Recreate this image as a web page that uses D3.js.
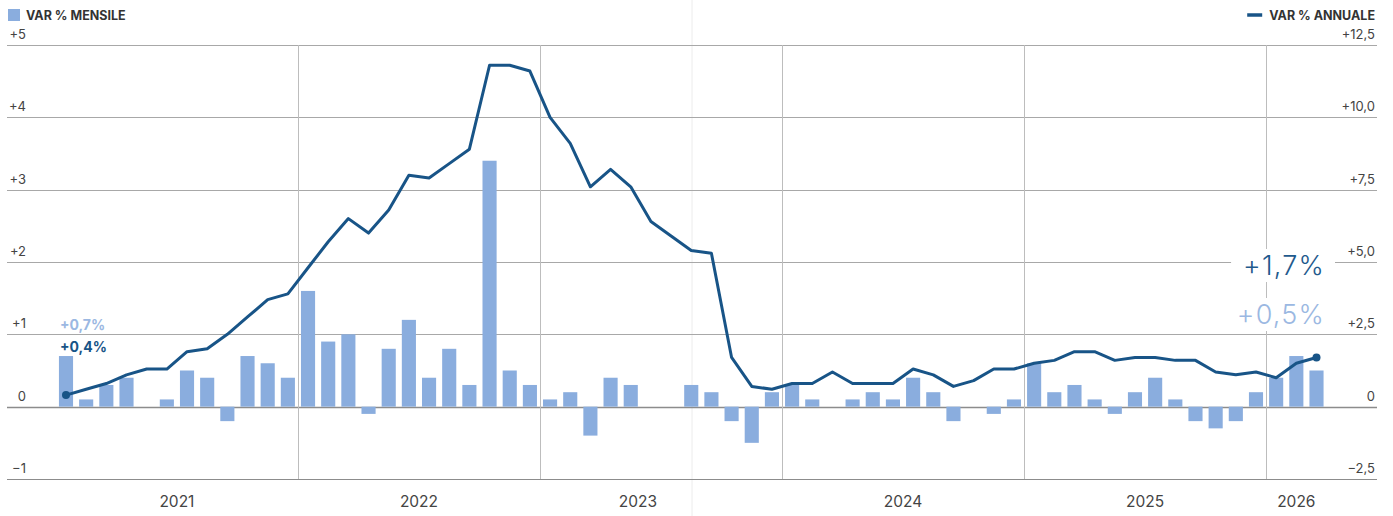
<!DOCTYPE html>
<html>
<head>
<meta charset="utf-8">
<script src="https://cdn.jsdelivr.net/npm/d3@7/dist/d3.min.js"></script>
<style>
  html, body { margin: 0; padding: 0; background: #fff; }
  svg { display: block; font-family: Inter, "Open Sans", sans-serif; }
</style>
</head>
<body>
<svg id="chart" width="1393" height="516"></svg>
<script>

  //============================================================
  // Data
  //------------------------------------------------------------

  var months = d3.timeMonth.range(new Date(2021, 0, 1), new Date(2026, 3, 1));

  var years = [2021, 2022, 2023, 2024, 2025, 2026];

  // var % mensile (left axis)
  var monthly = [
    0.7, 0.1, 0.3, 0.4, 0, 0.1, 0.5, 0.4, -0.2, 0.7, 0.6, 0.4,
    1.6, 0.9, 1.0, -0.1, 0.8, 1.2, 0.4, 0.8, 0.3, 3.4, 0.5, 0.3,
    0.1, 0.2, -0.4, 0.4, 0.3, 0, 0, 0.3, 0.2, -0.2, -0.5, 0.2,
    0.3, 0.1, 0, 0.1, 0.2, 0.1, 0.4, 0.2, -0.2, 0, -0.1, 0.1,
    0.6, 0.2, 0.3, 0.1, -0.1, 0.2, 0.4, 0.1, -0.2, -0.3, -0.2, 0.2,
    0.4, 0.7, 0.5
  ];

  // var % annuale (right axis)
  var annual = [
    0.4, 0.6, 0.8, 1.1, 1.3, 1.3, 1.9, 2.0, 2.5, 3.1, 3.7, 3.9,
    4.8, 5.7, 6.5, 6.0, 6.8, 8.0, 7.9, 8.4, 8.9, 11.8, 11.8, 11.6,
    10.0, 9.1, 7.6, 8.2, 7.6, 6.4, 5.9, 5.4, 5.3, 1.7, 0.7, 0.6,
    0.8, 0.8, 1.2, 0.8, 0.8, 0.8, 1.3, 1.1, 0.7, 0.9, 1.3, 1.3,
    1.5, 1.6, 1.9, 1.9, 1.6, 1.7, 1.7, 1.6, 1.6, 1.2, 1.1, 1.2,
    1.0, 1.5, 1.7
  ];

  var leftTicks = [-1, 0, 1, 2, 3, 4, 5];
  var rightTicks = [-2.5, 0, 2.5, 5, 7.5, 10, 12.5];

  //============================================================
  // Settings
  //------------------------------------------------------------

  var width = 1393
    , height = 516
    , gridLeft = 7
    , gridRight = 1377
    , barColor = '#8aadde'
    , lineColor = '#185487'
    , lightText = '#9bb8e2'
    , textColor = '#444'
    , yearNudge = {2023: -23}   // the 2023 label sits left of centre in the original
    ;

  var svg = d3.select('#chart');

  //------------------------------------------------------------
  // Scales

  var x = d3.scalePoint()
      .domain(d3.range(months.length))
      .range([66, 1316.5]);

  var step = x.step(),
      barWidth = step * 0.7;

  var yL = d3.scaleLinear().domain([-1, 5]).range([479, 45]);
  var yR = d3.scaleLinear().domain([-2.5, 12.5]).range([479, 45]);

  function signed(v, digits) {
    var s = digits ? d3.format('.' + digits + 'f')(Math.abs(v)).replace('.', ',') : String(Math.abs(v));
    return v > 0 ? '+' + s : v < 0 ? '\u2212' + s : '0';
  }

  //------------------------------------------------------------
  // Faint separator seen in the original

  svg.append('line')
      .attr('x1', 692).attr('x2', 692)
      .attr('y1', 0).attr('y2', height)
      .style('stroke', '#ececec');

  //------------------------------------------------------------
  // Horizontal grid

  svg.append('g').selectAll('line')
      .data(leftTicks)
    .enter().append('line')
      .attr('x1', gridLeft).attr('x2', gridRight)
      .attr('y1', function(d) { return Math.round(yL(d)) + 0.5 })
      .attr('y2', function(d) { return Math.round(yL(d)) + 0.5 })
      .style('stroke', function(d) { return d === 0 || d === -1 ? '#8c8c8c' : '#a8a8a8' })
      .style('stroke-width', function(d) { return d === 0 ? 1.6 : 1 });

  // year separators
  var yearStarts = years.slice(1).map(function(yr) {
    var i = months.findIndex(function(m) { return m.getFullYear() === yr });
    return (x(i - 1) + x(i)) / 2;
  });

  svg.append('g').selectAll('line')
      .data(yearStarts)
    .enter().append('line')
      .attr('x1', function(d) { return Math.round(d) + 0.5 })
      .attr('x2', function(d) { return Math.round(d) + 0.5 })
      .attr('y1', yL(5)).attr('y2', yL(-1))
      .style('stroke', '#bdbdbd');

  //------------------------------------------------------------
  // Axis labels

  svg.append('g').selectAll('text')
      .data(leftTicks)
    .enter().append('text')
      .attr('x', 26)
      .attr('y', function(d) { return yL(d) - 6 })
      .attr('text-anchor', 'end')
      .style('font-size', '13px')
      .style('fill', textColor)
      .text(function(d) { return signed(d) });

  svg.append('g').selectAll('text')
      .data(rightTicks)
    .enter().append('text')
      .attr('x', 1375)
      .attr('y', function(d) { return yR(d) - 6 })
      .attr('text-anchor', 'end')
      .style('font-size', '13px')
      .style('fill', textColor)
      .text(function(d) { return d === 0 ? '0' : signed(d, 1) });

  svg.append('g').selectAll('text')
      .data(years)
    .enter().append('text')
      .attr('x', function(yr) {
        var idx = d3.range(months.length).filter(function(i) { return months[i].getFullYear() === yr });
        return (x(idx[0]) + x(idx[idx.length - 1])) / 2 + (yearNudge[yr] || 0);
      })
      .attr('y', 507)
      .attr('text-anchor', 'middle')
      .style('font-size', '15.5px')
      .style('fill', textColor)
      .text(function(d) { return d });

  //------------------------------------------------------------
  // Bars

  svg.append('g').selectAll('rect')
      .data(monthly)
    .enter().append('rect')
      .attr('x', function(d, i) { return x(i) - barWidth / 2 })
      .attr('y', function(d) { return yL(Math.max(0, d)) })
      .attr('width', barWidth)
      .attr('height', function(d) { return Math.abs(yL(d) - yL(0)) })
      .style('fill', barColor);

  //------------------------------------------------------------
  // Line

  svg.append('path')
      .datum(annual)
      .attr('d', d3.line()
        .x(function(d, i) { return x(i) })
        .y(function(d) { return yR(d) }))
      .style('fill', 'none')
      .style('stroke', lineColor)
      .style('stroke-width', 3)
      .style('stroke-linejoin', 'round');

  var last = annual.length - 1;
  svg.append('g').selectAll('circle')
      .data([0, last])
    .enter().append('circle')
      .attr('cx', function(i) { return x(i) })
      .attr('cy', function(i) { return yR(annual[i]) })
      .attr('r', 4)
      .style('fill', lineColor);

  //------------------------------------------------------------
  // Annotations

  svg.append('text')
      .attr('x', x(0) - 6).attr('y', 330)
      .style('font-size', '14px').style('font-weight', 700)
      .style('fill', lightText)
      .text(signed(monthly[0], 1) + '%');

  svg.append('text')
      .attr('x', x(0) - 6).attr('y', 352)
      .style('font-size', '14px').style('font-weight', 700)
      .style('fill', lineColor)
      .text(signed(annual[0], 1) + '%');

  var endLabels = [
    { text: signed(annual[last], 1) + '%', y: 275, color: '#1f5a8d' },
    { text: signed(monthly[last], 1) + '%', y: 324, color: lightText }
  ];

  endLabels.forEach(function(l) {
    var t = svg.append('text')
        .attr('x', 1325).attr('y', l.y)
        .attr('text-anchor', 'end')
        .style('font-size', '27px').style('font-weight', 300)
        .style('letter-spacing', '1.2px')
        .style('fill', l.color)
        .text(l.text);
    var bb = t.node().getBBox();
    svg.insert('rect', function() { return t.node() })
        .attr('x', bb.x - 12).attr('y', bb.y)
        .attr('width', bb.width + 22).attr('height', bb.height)
        .style('fill', '#fff');
  });

  //------------------------------------------------------------
  // Legend

  svg.append('rect')
      .attr('x', 8).attr('y', 9).attr('width', 12).attr('height', 12)
      .style('fill', barColor);
  svg.append('text')
      .attr('x', 26).attr('y', 20)
      .style('font-size', '12.5px').style('font-weight', 700)
      .style('fill', '#333')
      .text('VAR % MENSILE');

  var legR = svg.append('text')
      .attr('x', 1375).attr('y', 20)
      .attr('text-anchor', 'end')
      .style('font-size', '12.5px').style('font-weight', 700)
      .style('fill', '#333')
      .text('VAR % ANNUALE');
  var lb = legR.node().getBBox();
  svg.append('line')
      .attr('x1', lb.x - 22).attr('x2', lb.x - 7)
      .attr('y1', 15).attr('y2', 15)
      .style('stroke', lineColor)
      .style('stroke-width', 3.5);

</script>
</body>
</html>
